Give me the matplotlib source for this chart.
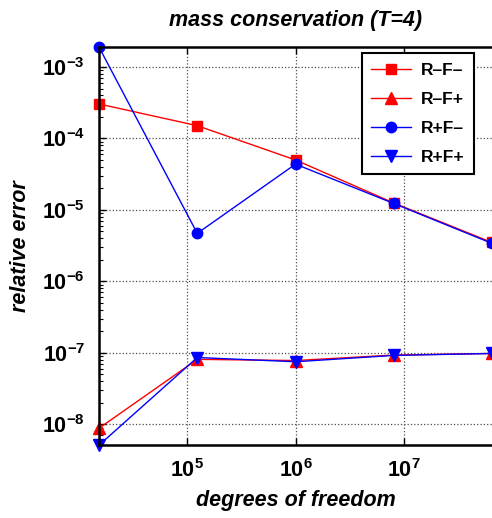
import matplotlib
matplotlib.use("Agg")
import matplotlib.pyplot as plt
from matplotlib.ticker import LogLocator, NullLocator

plt.rcParams['font.family'] = ['Liberation Sans', 'DejaVu Sans']
plt.rcParams['mathtext.fontset'] = 'custom'
plt.rcParams['mathtext.rm'] = 'Liberation Sans:bold'
plt.rcParams['mathtext.default'] = 'rm'

# degrees of freedom
dof = [15625, 125000, 1e6, 8e6, 6.4e7]

# relative errors
err_rm_fm = [3.04e-4, 1.51e-4, 5.0e-5, 1.25e-5, 3.5e-6]
err_rm_fp = [8.8e-9, 8.1e-8, 7.8e-8, 9.3e-8, 9.8e-8]
err_rp_fm = [1.9e-3, 4.7e-6, 4.37e-5, 1.23e-5, 3.4e-6]
err_rp_fp = [5.1e-9, 8.6e-8, 7.5e-8, 9.2e-8, 9.8e-8]

labels = ['R\u2013F\u2013', 'R\u2013F+', 'R+F\u2013', 'R+F+']

fig = plt.figure(figsize=(4.92, 5.18), dpi=100)
ax = fig.add_axes([99/492, 73/518, 393/492, 398/518])

ax.loglog(dof, err_rm_fm, color='r', marker='s', markersize=7.5, lw=1, label=labels[0], clip_on=False)
ax.loglog(dof, err_rm_fp, color='r', marker='^', markersize=9, lw=1, label=labels[1], clip_on=False)
ax.loglog(dof, err_rp_fm, color='b', marker='o', markersize=7.5, lw=1, label=labels[2], clip_on=False)
ax.loglog(dof, err_rp_fp, color='b', marker='v', markersize=9, lw=1, label=labels[3], clip_on=False)

ax.set_xlim(15625, 6.4e7)
ax.set_ylim(10**-8.29, 10**-2.72)

ax.xaxis.set_major_locator(LogLocator(base=10, numticks=10))
ax.xaxis.set_minor_locator(NullLocator())
ax.yaxis.set_major_locator(LogLocator(base=10, numticks=12))
ax.yaxis.set_minor_locator(LogLocator(base=10, subs=range(2, 10), numticks=12))

ax.grid(True, which='major', linestyle=':', color='0.3', lw=0.9)
ax.tick_params(which='both', direction='in', top=True, right=False, labelsize=15.5)
ax.tick_params(which='major', length=5, width=1)
ax.tick_params(which='minor', length=3, width=0.8)
ax.tick_params(axis='y', which='major', pad=10)
ax.tick_params(axis='x', which='major', pad=10)
for lab in ax.get_xticklabels() + ax.get_yticklabels():
    lab.set_fontweight('bold')
for s in ['left', 'bottom', 'top']:
    ax.spines[s].set_linewidth(1.8)
ax.spines['right'].set_visible(False)

ax.set_title('mass conservation (T=4)', fontsize=15.5, fontweight='bold', style='italic', pad=15)
ax.set_xlabel('degrees of freedom', fontsize=15.5, fontweight='bold', style='italic', labelpad=6)
ax.set_ylabel('relative error', fontsize=15.5, fontweight='bold', style='italic', labelpad=8)

leg = ax.legend(loc='upper right', bbox_to_anchor=(0.954, 0.985), fancybox=False,
                edgecolor='k', framealpha=1, handlelength=2.3, handletextpad=0.55,
                borderpad=0.55, labelspacing=0.8, borderaxespad=0,
                prop={'weight': 'bold', 'size': 12.5})
leg.get_frame().set_linewidth(1.5)

fig.savefig('out.png', dpi=100)
